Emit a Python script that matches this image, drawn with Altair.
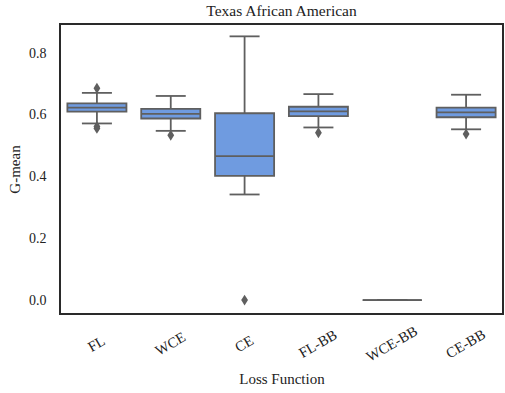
import altair as alt
import pandas as pd

# Summary statistics of the G-mean per loss function
losses = ["FL", "WCE", "CE", "FL-BB", "WCE-BB", "CE-BB"]
whisker_low = [0.572, 0.548, 0.342, 0.559, 0.0, 0.553]
q1 = [0.610, 0.588, 0.402, 0.596, 0.0, 0.592]
median = [0.623, 0.603, 0.466, 0.611, 0.0, 0.608]
q3 = [0.637, 0.619, 0.605, 0.626, 0.0, 0.623]
whisker_high = [0.671, 0.661, 0.854, 0.667, 0.0, 0.665]

# Outlying runs
outlier_loss = ["FL", "FL", "FL", "WCE", "CE", "FL-BB", "CE-BB"]
outlier_value = [0.686, 0.562, 0.556, 0.534, 0.0, 0.542, 0.538]

stats = pd.DataFrame({
    "loss": losses, "lo": whisker_low, "q1": q1, "med": median,
    "q3": q3, "hi": whisker_high,
})
fliers = pd.DataFrame({"loss": outlier_loss, "value": outlier_value})

FONT = "Liberation Serif"
GRAY = "#5f5f5f"
FILL = "#6f9be0"
W, H = 443, 290

xscale = alt.Scale(domain=losses, paddingInner=0, paddingOuter=0)
x = alt.X("loss:N", sort=losses, title="Loss Function", scale=xscale,
          axis=alt.Axis(labelAngle=-30, labelAlign="center",
                        labelBaseline="middle", labelPadding=30,
                        titlePadding=8, labelFont=FONT, titleFont=FONT,
                        labelFontSize=14.5, titleFontSize=15,
                        labelColor="#222", titleColor="#222",
                        titleFontWeight="normal", ticks=False, grid=False,
                        domain=False))
yscale = alt.Scale(domain=[-0.045, 0.894], nice=False, zero=False)
yaxis = alt.Axis(values=[0.0, 0.2, 0.4, 0.6, 0.8], format=".1f",
                 labelPadding=14, titlePadding=6, labelFont=FONT,
                 titleFont=FONT, labelFontSize=14, titleFontSize=15,
                 labelColor="#222", titleColor="#222",
                 titleFontWeight="normal", ticks=False, grid=False,
                 domain=False)

base = alt.Chart(stats).encode(x=x)

whiskers = base.mark_rule(color=GRAY, strokeWidth=1.8).encode(
    y=alt.Y("lo:Q", scale=yscale, axis=yaxis, title="G-mean"),
    y2="hi:Q",
)
boxes = base.mark_bar(width=alt.RelativeBandSize(0.8), fill=FILL, stroke=GRAY,
                      strokeWidth=1.8).encode(
    y=alt.Y("q1:Q", scale=yscale, axis=yaxis, title="G-mean"), y2="q3:Q")
medians = base.mark_tick(orient="horizontal", size=59, color=GRAY,
                         thickness=1.8, opacity=1).encode(
    y=alt.Y("med:Q", scale=yscale, axis=yaxis, title="G-mean"))
caps_lo = base.mark_tick(orient="horizontal", size=30, color=GRAY,
                         thickness=1.8, opacity=1).encode(
    y=alt.Y("lo:Q", scale=yscale, axis=yaxis, title="G-mean"))
caps_hi = base.mark_tick(orient="horizontal", size=30, color=GRAY,
                         thickness=1.8, opacity=1).encode(
    y=alt.Y("hi:Q", scale=yscale, axis=yaxis, title="G-mean"))
points = alt.Chart(fliers).mark_point(
    shape="M0,-1L0.62,0L0,1L-0.62,0Z", filled=True, color=GRAY, size=120,
    opacity=1).encode(x=x,
                      y=alt.Y("value:Q", scale=yscale, axis=yaxis, title="G-mean"))

# Dark frame around the plotting area
frame = alt.Chart(stats).mark_rect(
    fill=None, stroke="#2b2b2b", strokeWidth=1.6
).encode(x=alt.value(0), x2=alt.value(W), y=alt.value(0), y2=alt.value(H))

chart = alt.layer(whiskers, boxes, medians, caps_lo, caps_hi, points,
                  frame).properties(
    width=W, height=H,
    background="white",
    title=alt.TitleParams("Texas African American", font=FONT, fontSize=15.5,
                          fontWeight="normal", color="#222", offset=4),
    autosize=alt.AutoSizeParams(type="none"),
    padding={"left": 60, "top": 24, "right": 2, "bottom": 79},
).configure_view(stroke=None)

chart.save("out.html", embed_options={"renderer": "svg", "actions": False})
